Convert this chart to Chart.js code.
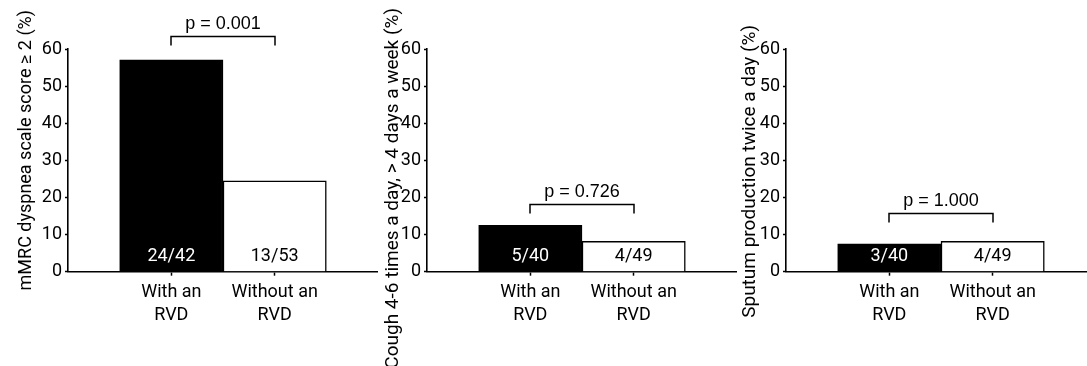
<!DOCTYPE html>
<html><head><meta charset="utf-8">
<script src="https://cdn.jsdelivr.net/npm/chart.js@4.4.1/dist/chart.umd.min.js"></script>
<style>
html,body{margin:0;padding:0;background:#fff;width:1087px;height:366px;overflow:hidden;}
#wrap{position:relative;width:1087px;height:366px;overflow:hidden;background:#fff;}
canvas{position:absolute;top:0;}
</style></head><body>
<div id="wrap">
<canvas id="c1" width="378" height="366" style="left:0px"></canvas>
<canvas id="c2" width="378" height="366" style="left:359px"></canvas>
<canvas id="c3" width="378" height="366" style="left:718px"></canvas>
</div>
<script>
// ---- data ----
const categories = [['With an', 'RVD'], ['Without an', 'RVD']];
const yTicks = [0, 10, 20, 30, 40, 50, 60];
const dyspneaValues = [57.1, 24.5];
const coughValues = [12.5, 8.2];
const sputumValues = [7.5, 8.2];
const dyspneaCounts = ['24/42', '13/53'];
const coughCounts = ['5/40', '4/49'];
const sputumCounts = ['3/40', '4/49'];
const pLabels = ['p = 0.001', 'p = 0.726', 'p = 1.000'];
const bracketLevels = [63.4, 18.3, 15.8];
const yTitles = [
  'mMRC dyspnea scale score \u2265 2 (%)',
  'Cough 4-6 times a day, > 4 days a week (%)',
  'Sputum production twice a day (%)'
];

// ---- layout (not data) ----
const titleX = [30.7, 38.7, 37];
const titleEndY = [10, 8, 25];
const titleSize = [18, 19, 19];
const FONT = 'Roboto';

Chart.defaults.font.family = FONT;
Chart.defaults.color = '#000';

function makeAnnot(counts, level, pText, title, tx, ty, tsize) {
  return {
    id: 'annot',
    afterDraw(chart) {
      const ctx = chart.ctx, xs = chart.scales.x, ys = chart.scales.y, ca = chart.chartArea;
      ctx.save();
      ctx.font = '18px ' + FONT;
      ctx.textAlign = 'center';
      ctx.textBaseline = 'middle';
      counts.forEach((t, i) => {
        ctx.fillStyle = i === 0 ? '#fff' : '#000';
        ctx.fillText(t, xs.getPixelForValue(i + 1), ca.bottom - 15);
      });
      const xl = Math.round(xs.getPixelForValue(1)), xr = Math.round(xs.getPixelForValue(2));
      const yt = Math.round(ys.getPixelForValue(level)) + 0.5;
      ctx.strokeStyle = '#000';
      ctx.lineWidth = 1.5;
      ctx.beginPath();
      ctx.moveTo(xl, yt + 9); ctx.lineTo(xl, yt); ctx.lineTo(xr, yt); ctx.lineTo(xr, yt + 9);
      ctx.stroke();
      ctx.fillStyle = '#000';
      ctx.font = '18px "Liberation Sans", Arial, sans-serif';
      ctx.textBaseline = 'alphabetic';
      ctx.fillText(pText, (xl + xr) / 2, yt - 8);
      ctx.translate(tx, ty);
      ctx.rotate(-Math.PI / 2);
      ctx.font = tsize + 'px ' + FONT;
      ctx.textAlign = 'right';
      ctx.fillText(title, 0, 0);
      ctx.restore();
    }
  };
}

function makeChart(id, values, counts, idx) {
  return new Chart(document.getElementById(id), {
    type: 'bar',
    data: {
      datasets: [{
        data: values.map((v, i) => ({ x: i + 1, y: v })),
        backgroundColor: ['#000', '#fff'],
        borderColor: '#000',
        borderWidth: 1.5,
        barPercentage: 1,
        categoryPercentage: 1
      }]
    },
    options: {
      responsive: false,
      animation: false,
      devicePixelRatio: 1,
      layout: { padding: { top: 49, left: 0, right: 0, bottom: 0 } },
      plugins: { legend: { display: false }, tooltip: { enabled: false } },
      scales: {
        x: {
          type: 'linear', min: 0, max: 3, z: 1, offset: false,
          afterBuildTicks: s => { s.ticks = categories.map((c, i) => ({ value: i + 1 })); },
          afterFit: s => { s.height = 94.3; },
          ticks: {
            callback: v => categories[v - 1],
            font: { size: 18, lineHeight: 1.28 },
            color: '#000', padding: 5, maxRotation: 0, autoSkip: false
          },
          grid: { display: true, offset: false, drawOnChartArea: false, drawTicks: true, tickLength: 4, tickColor: '#000', tickWidth: 1.5 },
          border: { display: true, color: '#000', width: 1.6 }
        },
        y: {
          min: 0, max: 60,
          afterBuildTicks: s => { s.ticks = yTicks.map(v => ({ value: v })); },
          afterFit: s => { s.width = 68; },
          ticks: { font: { size: 18 }, color: '#000', padding: 3 },
          grid: { display: true, drawOnChartArea: false, drawTicks: true, tickLength: 3, tickColor: '#000', tickWidth: 1.5 },
          border: { display: true, color: '#000', width: 1.6 }
        }
      }
    },
    plugins: [makeAnnot(counts, bracketLevels[idx], pLabels[idx], yTitles[idx], titleX[idx], titleEndY[idx], titleSize[idx])]
  });
}

makeChart('c1', dyspneaValues, dyspneaCounts, 0);
makeChart('c2', coughValues, coughCounts, 1);
makeChart('c3', sputumValues, sputumCounts, 2);
</script>
</body></html>
